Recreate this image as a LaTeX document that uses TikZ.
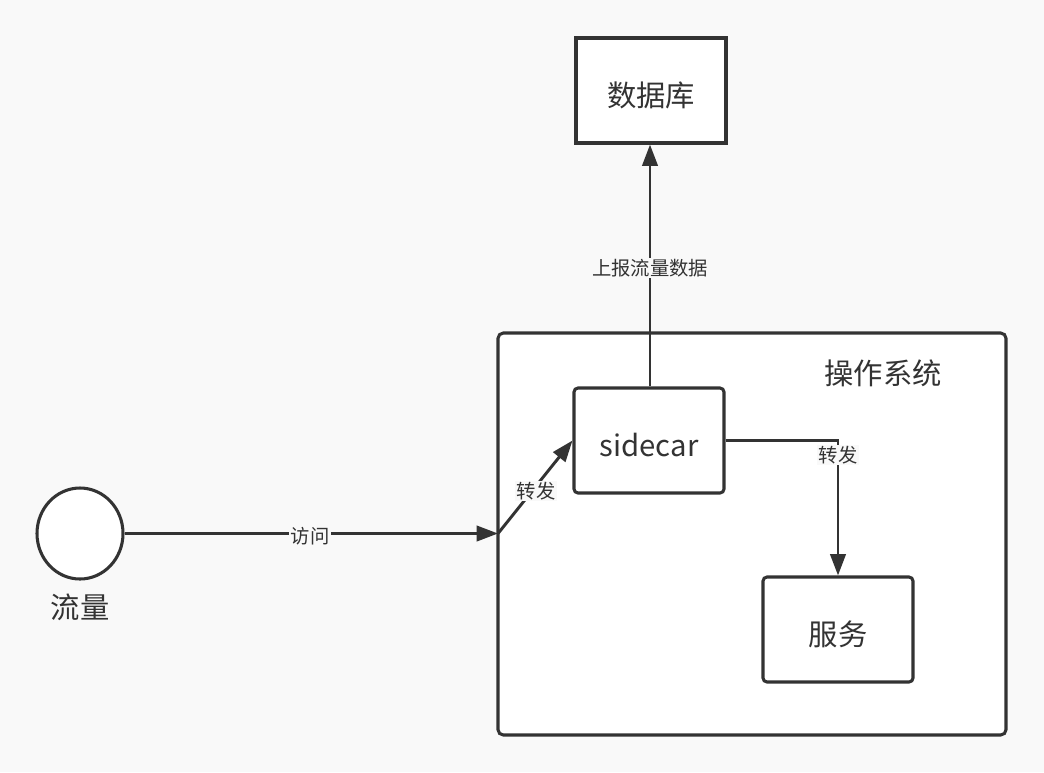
\documentclass[tikz,border=0pt]{standalone}
\usepackage{fontspec}
\setmainfont{Noto Sans CJK SC}
\usetikzlibrary{arrows.meta,shapes.geometric}
\definecolor{bg}{HTML}{F9F9F9}
\definecolor{ink}{HTML}{333333}
\tikzset{
  box/.style={draw=ink, line width=2.3pt, fill=white, minimum width=150*0.75pt, minimum height=105*0.75pt, inner sep=0pt},
  rbox/.style={box, rounded corners=3pt},
  boxtext/.style={text=ink, font=\fontsize{22}{26}\selectfont, inner sep=0pt, yshift=-3.5pt},
  conn/.style={draw=ink, line width=2.2pt, -{Triangle[length=16pt,width=11.5pt]}},
  lbl/.style={fill=bg, text=ink, font=\fontsize{14.5}{16}\selectfont, inner sep=1pt},
  big/.style={text=ink, font=\fontsize{22}{26}\selectfont, inner sep=0pt}
}
\begin{document}
\begin{tikzpicture}[x=0.75pt, y=-0.75pt]
\fill[bg] (0,0) rectangle (1044,772);
\useasboundingbox (0,0) rectangle (1044,772);
% container
\node[draw=ink, line width=2.3pt, fill=white, rounded corners=4pt, minimum width=508*0.75pt, minimum height=402*0.75pt, inner sep=0pt] (os) at (752,534) {};
\node[big] (oslabel) at (883,373) {操作系统};
% boxes
\node[box, label={[boxtext]center:数据库}] (db) at (651,90.5) {};
\node[rbox, label={[boxtext]center:sidecar}] (sc) at (649,440.5) {};
\node[rbox, label={[boxtext]center:服务}] (svc) at (838,629.5) {};
\node[draw=ink, line width=2.3pt, fill=white, ellipse, minimum width=86*0.75pt, minimum height=91*0.75pt, inner sep=0pt] (user) at (80,533.5) {};
\node[big] (userlabel) at (80,607) {流量};
\coordinate (entry) at (498,533.5);
% connectors
\draw[conn] (user.east) -- (entry);
\node[lbl] (l1) at (310,536) {访问};
\draw[conn] (entry) -- (sc.west |- 0,440.5);
\node[lbl] (l2) at (536,491) {转发};
\coordinate (corner) at (838,440.5);
\draw[conn] (sc.east) -- (corner) -- (svc.north);
\node[lbl] (l3) at (838,455) {转发};
\draw[conn] (sc.north -| 650,0) -- (db.south -| 650,0);
\node[lbl] (l4) at (650,268) {上报流量数据};
\end{tikzpicture}
\end{document}
